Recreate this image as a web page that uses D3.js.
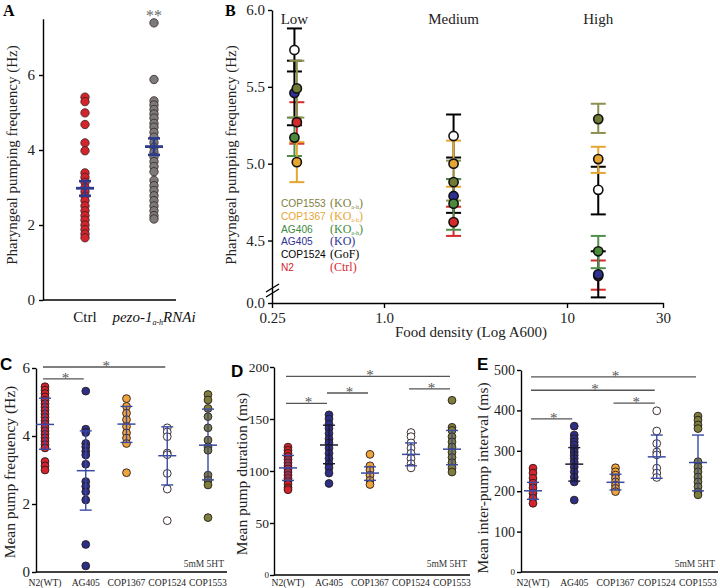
<!DOCTYPE html>
<html><head><meta charset="utf-8">
<script src="https://cdn.jsdelivr.net/npm/d3@7"></script>
<style>body{margin:0;background:#fff}svg{display:block}</style>
</head><body>
<svg id="c" width="720" height="588"></svg>
<script>
// ---------------- DATA ----------------
// Panel A
const aCategories = ["Ctrl", "pezo"];
const aCtrl = [5.41,5.29,4.99,4.68,4.19,3.98,3.39,3.27,3.14,3.0,2.89,2.77,2.65,2.51,2.38,2.25,2.13,2.0,1.88,1.76,1.66];
const aPezo = [7.39,5.88,5.31,5.2,5.08,4.96,4.85,4.71,4.61,4.47,4.34,4.2,4.07,3.94,3.82,3.69,3.56,3.42,3.19,3.05,2.92,2.78,2.65,2.51,2.38,2.25,2.16];
const aMean = [2.98, 4.09];
const aLo = [2.78, 3.87];
const aHi = [3.17, 4.31];
const aTicks = [0, 2, 4, 6];

// Panel B (food density groups)
const bGroups = ["Low", "Medium", "High"];
const bDensity = [0.33, 2.4, 14.3];
const bStrains = ["N2", "COP1524", "AG405", "AG406", "COP1367", "COP1553"];
const bLegendOrder = ["COP1553", "COP1367", "AG406", "AG405", "COP1524", "N2"];
const bLegendTag = {COP1553:"KOah", COP1367:"KOah", AG406:"KOah", AG405:"(KO)", COP1524:"(GoF)", N2:"(Ctrl)"};
const bLowShift = {N2:0.34, COP1524:0.33, AG405:0.33, AG406:0.33, COP1367:0.34, COP1553:0.34};
const bMeanN2 = [5.27, 4.62, 4.27];
const bLoN2 = [5.13, 4.53, 4.18];
const bHiN2 = [5.40, 4.72, 4.37];
const bMeanCOP1524 = [5.74, 5.18, 4.83];
const bLoCOP1524 = [5.60, 5.04, 4.67];
const bHiCOP1524 = [5.88, 5.32, 4.98];
const bMeanAG405 = [5.46, 4.79, 4.28];
const bLoAG405 = [5.25, 4.68, 4.13];
const bHiAG405 = [5.67, 4.90, 4.43];
const bMeanAG406 = [5.17, 4.74, 4.43];
const bLoAG406 = [5.05, 4.57, 4.32];
const bHiAG406 = [5.30, 4.90, 4.53];
const bMeanCOP1367 = [5.01, 5.00, 5.03];
const bLoCOP1367 = [4.88, 4.85, 4.94];
const bHiCOP1367 = [5.14, 5.15, 5.11];
const bMeanCOP1553 = [5.49, 4.88, 5.29];
const bLoCOP1553 = [5.30, 4.76, 5.20];
const bHiCOP1553 = [5.67, 5.02, 5.39];
const bYTicks = [0, 4.5, 5.0, 5.5, 6.0];
const bXTicks = [0.25, 1, 10, 30];
const bXTickLabels = ["0.25", "1.0", "10", "30"];

// Panels C, D, E
const strains = ["N2(WT)", "AG405", "COP1367", "COP1524", "COP1553"];
const cN2 = [5.45,5.35,5.25,5.15,5.05,4.95,4.85,4.75,4.65,4.55,4.45,4.35,4.25,4.15,4.05,3.95,3.85,3.75,3.65,3.25,3.12,3.0];
const cAG405 = [5.32,4.2,4.1,3.78,3.68,3.55,3.44,3.17,2.66,2.52,2.36,2.12,0.81,0.18];
const cCOP1367 = [5.1,4.87,4.67,4.48,4.28,4.09,3.94,3.78,2.92];
const cCOP1524 = [4.24,4.12,3.98,3.5,3.45,2.9,2.44,1.51];
const cCOP1553 = [5.22,5.06,4.81,4.57,4.24,3.88,3.68,3.58,2.85,2.7,2.56,1.6];
const cMean = [4.34, 2.98, 4.35, 3.42, 3.73];
const cLo = [3.61, 1.82, 3.81, 2.56, 2.71];
const cHi = [5.11, 4.15, 4.87, 4.27, 4.79];
const cTicks = [0, 2, 4, 6];
const cSig = [["N2(WT)","AG405",5.68],["N2(WT)","COP1524",6.03]];

const dN2 = [123,120,117,114,111,108,105,102,99,96,93,90,87,84,82];
const dAG405 = [154,150,145,141,136,131,127,122,117,112,107,103,98,88];
const dCOP1367 = [116,105,101,96,91,87];
const dCOP1524 = [137,133,127,122,117,112,107,103];
const dCOP1553 = [168,142,139,133,128,123,118,113,108,103,99];
const dMean = [103, 125, 98, 116, 121];
const dLo = [91, 107, 91, 105, 106];
const dHi = [115, 144, 104, 127, 139];
const dTicks = [0, 50, 100, 150, 200];
const dSig = [["N2(WT)","AG405",165],["AG405","COP1367",175],["COP1524","COP1553",179],["N2(WT)","COP1553",191]];

const eN2 = [257,245,232,220,208,195,183,170];
const eAG405 = [361,339,330,322,314,305,297,289,281,272,260,248,235,223,178];
const eCOP1367 = [258,248,240,232,223,215,207,199];
const eCOP1524 = [399,349,318,297,290,257,245,234];
const eCOP1553 = [386,376,364,355,273,260,248,235,223,211,198,191];
const eMean = [201, 267, 222, 285, 271];
const eLo = [180, 225, 203, 232, 201];
const eHi = [222, 308, 242, 339, 339];
const eTicks = [0, 100, 200, 300, 400, 500];
const eSig = [["N2(WT)","AG405",379],["COP1367","COP1524",418],["N2(WT)","COP1524",450],["N2(WT)","COP1553",483]];

// ---------------- STYLE ----------------
const serif = '"Liberation Serif","Times New Roman",serif';
const sans = '"Liberation Sans",Arial,sans-serif';
const col = {
  red: "#d3232c", navy: "#2b2f86", orange: "#eea43c", white: "#ffffff",
  olive: "#7c7f3c", gray: "#7b7b7b", green: "#3f8a3c", err: "#3a4aa3"
};
const strainFill = [col.red, col.navy, col.orange, col.white, col.olive];
const bFill = {N2:"#d42a2a", COP1524:"#ffffff", AG405:"#2e3192", AG406:"#4a8a3a", COP1367:"#e6a530", COP1553:"#6f7a35"};
const bErr = {N2:"#d42a2a", COP1524:"#000000", AG405:"#000000", AG406:"#4f8f4a", COP1367:"#e6a530", COP1553:"#8c8f4e"};
const bLegendColor = {N2:"#d7262f", COP1524:"#000", AG405:"#2e3192", AG406:"#3d8b3d", COP1367:"#e8a532", COP1553:"#7f8040"};

const svg = d3.select("#c");

function styleAxis(g, fs) {
  g.selectAll("path,line").attr("stroke", "#000").attr("stroke-width", 1.4);
  g.selectAll("text").attr("font-family", serif).attr("font-size", fs).attr("fill", "#222");
}

// ---------------- PANEL A ----------------
{
  const y = d3.scaleLinear().domain([0, 7.5]).range([300, 18.75]);
  const x = d3.scalePoint().domain(aCategories).range([85, 154]);
  const g = svg.append("g");
  g.append("g").attr("transform", "translate(43,0)")
    .call(d3.axisLeft(y).tickValues(aTicks).tickSize(4).tickSizeOuter(0).tickPadding(4).tickFormat(d3.format("d")))
    .call(a => styleAxis(a, 15));
  g.append("line").attr("x1", 43).attr("x2", 176).attr("y1", y(0)).attr("y2", y(0)).attr("stroke", "#000").attr("stroke-width", 1.4);
  const sets = [aCtrl, aPezo];
  const fills = [col.red, col.gray];
  sets.forEach((vals, i) => {
    g.selectAll(null).data(vals).enter().append("circle")
      .attr("cx", x(aCategories[i])).attr("cy", d => y(d)).attr("r", 4.2)
      .attr("fill", fills[i]).attr("stroke", "#3a2222").attr("stroke-width", 0.8);
  });
  aCategories.forEach((c, i) => {
    const cx = x(c);
    g.append("line").attr("x1", cx).attr("x2", cx).attr("y1", y(aLo[i])).attr("y2", y(aHi[i])).attr("stroke", "#2d3b8f").attr("stroke-width", 2.6);
    g.append("line").attr("x1", cx - 9).attr("x2", cx + 9).attr("y1", y(aMean[i])).attr("y2", y(aMean[i])).attr("stroke", "#2d3b8f").attr("stroke-width", 2.8);
    [aLo[i], aHi[i]].forEach(v => g.append("line").attr("x1", cx - 6).attr("x2", cx + 6).attr("y1", y(v)).attr("y2", y(v)).attr("stroke", "#2d3b8f").attr("stroke-width", 2.6));
  });
  g.append("text").attr("x", x("pezo")).attr("y", 21).attr("text-anchor", "middle").attr("font-family", serif).attr("font-size", 16).attr("fill", "#6a6a6a").text("**");
  g.append("text").attr("x", x("Ctrl")).attr("y", 322).attr("text-anchor", "middle").attr("font-family", serif).attr("font-size", 15).attr("fill", "#111").text("Ctrl");
  const t = g.append("text").attr("x", x("pezo")).attr("y", 322).attr("text-anchor", "middle").attr("font-family", serif).attr("font-size", 15).attr("font-style", "italic").attr("fill", "#111");
  t.append("tspan").text("pezo-1");
  t.append("tspan").attr("font-size", 8).attr("dy", 3).text("a-h");
  t.append("tspan").attr("dy", -3).text("RNAi");
  g.append("text").attr("transform", "translate(17,155) rotate(-90)").attr("text-anchor", "middle").attr("font-family", serif).attr("font-size", 15).attr("fill", "#222").text("Pharyngeal pumping frequency (Hz)");
  g.append("text").attr("x", 3).attr("y", 16).attr("font-family", serif).attr("font-weight", "bold").attr("font-size", 16).text("A");
}

// ---------------- PANEL B ----------------
{
  const x = d3.scaleLog().domain([0.25, 1, 10, 30]).range([272, 384, 567, 663]);
  const y = d3.scaleLinear().domain([0, 4.1, 6.0]).range([303, 302, 10]);
  const g = svg.append("g");
  g.append("g").attr("transform", "translate(272,0)")
    .call(d3.axisLeft(y).tickValues(bYTicks).tickSize(4).tickSizeOuter(0).tickPadding(3).tickFormat(d3.format(".1f")))
    .call(a => styleAxis(a, 15));
  g.append("g").attr("transform", "translate(0,303)")
    .call(d3.axisBottom(x).tickValues(bXTicks).tickSize(5).tickSizeOuter(0).tickPadding(4).tickFormat((d, i) => bXTickLabels[i]))
    .call(a => styleAxis(a, 15));
  // axis break marks
  [0, 5].forEach(o => g.append("line").attr("x1", 266).attr("x2", 279).attr("y1", 292 + o).attr("y2", 284 + o).attr("stroke", "#000").attr("stroke-width", 1.4));

  const means = {N2:bMeanN2, COP1524:bMeanCOP1524, AG405:bMeanAG405, AG406:bMeanAG406, COP1367:bMeanCOP1367, COP1553:bMeanCOP1553};
  const los = {N2:bLoN2, COP1524:bLoCOP1524, AG405:bLoAG405, AG406:bLoAG406, COP1367:bLoCOP1367, COP1553:bLoCOP1553};
  const his = {N2:bHiN2, COP1524:bHiCOP1524, AG405:bHiAG405, AG406:bHiAG406, COP1367:bHiCOP1367, COP1553:bHiCOP1553};
  const px = (s, gi) => gi === 0 ? x(bLowShift[s]) : x(bDensity[gi]);
  bStrains.forEach(s => {
    bGroups.forEach((gr, gi) => {
      const cx = px(s, gi);
      g.append("line").attr("x1", cx).attr("x2", cx).attr("y1", y(los[s][gi])).attr("y2", y(his[s][gi])).attr("stroke", bErr[s]).attr("stroke-width", 2);
      [los[s][gi], his[s][gi]].forEach(v => g.append("line").attr("x1", cx - 7.5).attr("x2", cx + 7.5).attr("y1", y(v)).attr("y2", y(v)).attr("stroke", bErr[s]).attr("stroke-width", 2));
    });
  });
  bStrains.forEach(s => {
    g.selectAll(null).data(means[s]).enter().append("circle")
      .attr("cx", (d, gi) => px(s, gi)).attr("cy", d => y(d)).attr("r", 4.6)
      .attr("fill", bFill[s]).attr("stroke", "#111").attr("stroke-width", 1.6);
  });
  bGroups.forEach((gr, gi) => g.append("text").attr("x", x(bDensity[gi])).attr("y", 24).attr("text-anchor", "middle").attr("font-family", serif).attr("font-size", 15).attr("fill", "#222").text(gr));
  // legend
  bLegendOrder.forEach((s, i) => {
    const yy = 207 + i * 12.8;
    g.append("text").attr("x", 281).attr("y", yy).attr("font-family", sans).attr("font-size", 10.2).attr("fill", bLegendColor[s]).text(s);
    const t = g.append("text").attr("x", 330).attr("y", yy).attr("font-family", serif).attr("font-size", 12).attr("fill", bLegendColor[s]);
    if (bLegendTag[s] === "KOah") {
      t.append("tspan").text("(KO");
      t.append("tspan").attr("font-size", 6).attr("dy", 2).text("a-h");
      t.append("tspan").attr("dy", -2).text(")");
    } else t.text(bLegendTag[s]);
  });
  g.append("text").attr("transform", "translate(236,155) rotate(-90)").attr("text-anchor", "middle").attr("font-family", serif).attr("font-size", 15).attr("fill", "#222").text("Pharyngeal pumping frequency  (Hz)");
  g.append("text").attr("x", 471).attr("y", 337).attr("text-anchor", "middle").attr("font-family", serif).attr("font-size", 15).attr("fill", "#222").text("Food density (Log A600)");
  g.append("text").attr("x", 225).attr("y", 16).attr("font-family", serif).attr("font-weight", "bold").attr("font-size", 16).text("B");
}

// ---------------- PANELS C, D, E ----------------
function strainPanel(o) {
  const g = svg.append("g");
  const y = d3.scaleLinear().domain(o.domain).range(o.yRange);
  const x = d3.scalePoint().domain(strains).range(o.xRange);
  const ax = g.append("g").attr("transform", `translate(${o.axisX},0)`)
    .call(d3.axisLeft(y).tickValues(o.ticks).tickSize(4).tickSizeOuter(0).tickPadding(o.pad).tickFormat(d3.format("d")))
    .call(a => styleAxis(a, o.tickFs));
  if (o.smallZero) ax.selectAll(".tick text").filter(d => d === 0).attr("font-size", 9);
  g.append("line").attr("x1", o.axisX).attr("x2", o.xEnd).attr("y1", y(0)).attr("y2", y(0)).attr("stroke", "#000").attr("stroke-width", 1.4);
  o.sig.forEach(([a, b, v]) => {
    g.append("line").attr("x1", x(a) - 2).attr("x2", x(b) - 2).attr("y1", y(v)).attr("y2", y(v)).attr("stroke", "#555").attr("stroke-width", 1.4);
    g.append("text").attr("x", (x(a) + x(b)) / 2).attr("y", y(v) + 4).attr("text-anchor", "middle").attr("font-family", serif).attr("font-size", 15).attr("fill", "#555").text("*");
  });
  o.sets.forEach((vals, i) => {
    g.selectAll(null).data(vals).enter().append("circle")
      .attr("cx", x(strains[i])).attr("cy", d => y(d)).attr("r", 3.9)
      .attr("fill", strainFill[i]).attr("stroke", "#2a1a1a").attr("stroke-width", 0.9);
  });
  strains.forEach((s, i) => {
    const cx = x(s);
    const c = (o.darkAG && i === 1) ? "#1a1a33" : col.err;
    g.append("line").attr("x1", cx).attr("x2", cx).attr("y1", y(o.lo[i])).attr("y2", y(o.hi[i])).attr("stroke", c).attr("stroke-width", 1.4);
    g.append("line").attr("x1", cx - 9).attr("x2", cx + 9).attr("y1", y(o.mean[i])).attr("y2", y(o.mean[i])).attr("stroke", c).attr("stroke-width", 1.5);
    [o.lo[i], o.hi[i]].forEach(v => g.append("line").attr("x1", cx - 6).attr("x2", cx + 6).attr("y1", y(v)).attr("y2", y(v)).attr("stroke", c).attr("stroke-width", 1.4));
  });
  strains.forEach(s => g.append("text").attr("x", x(s)).attr("y", 586).attr("text-anchor", "middle").attr("font-family", serif).attr("font-size", 9.6).attr("fill", "#222").text(s));
  g.append("text").attr("x", o.xEnd - 3).attr("y", 567).attr("text-anchor", "end").attr("font-family", serif).attr("font-size", 9.5).attr("fill", "#333").text("5mM 5HT");
  g.append("text").attr("transform", `translate(${o.labelX},${o.labelY}) rotate(-90)`).attr("text-anchor", "middle").attr("font-family", serif).attr("font-size", 15.5).attr("fill", "#222").text(o.label);
  g.append("text").attr("x", o.letterX).attr("y", o.letterY).attr("font-family", sans).attr("font-weight", "bold").attr("font-size", 17).text(o.letter);
}

strainPanel({domain:[0,6], yRange:[572,368], xRange:[45,208], axisX:36, xEnd:227, ticks:cTicks, pad:2, tickFs:15,
  sets:[cN2,cAG405,cCOP1367,cCOP1524,cCOP1553], mean:cMean, lo:cLo, hi:cHi, sig:cSig,
  label:"Mean pump frequency (Hz)", labelX:15, labelY:472, letter:"C", letterX:0, letterY:370});
strainPanel({domain:[0,200], yRange:[575,367], xRange:[288,452], axisX:274, xEnd:470, ticks:dTicks, pad:1, tickFs:13.5, smallZero:true, darkAG:true,
  sets:[dN2,dAG405,dCOP1367,dCOP1524,dCOP1553], mean:dMean, lo:dLo, hi:dHi, sig:dSig,
  label:"Mean pump duration (ms)", labelX:247, labelY:474, letter:"D", letterX:231, letterY:377});
strainPanel({domain:[0,500], yRange:[572,370], xRange:[533,698], axisX:521, xEnd:718, ticks:eTicks, pad:2, tickFs:14, smallZero:true, darkAG:true,
  sets:[eN2,eAG405,eCOP1367,eCOP1524,eCOP1553], mean:eMean, lo:eLo, hi:eHi, sig:eSig,
  label:"Mean inter-pump interval (ms)", labelX:488, labelY:478, letter:"E", letterX:477, letterY:370});
</script>
</body></html>
